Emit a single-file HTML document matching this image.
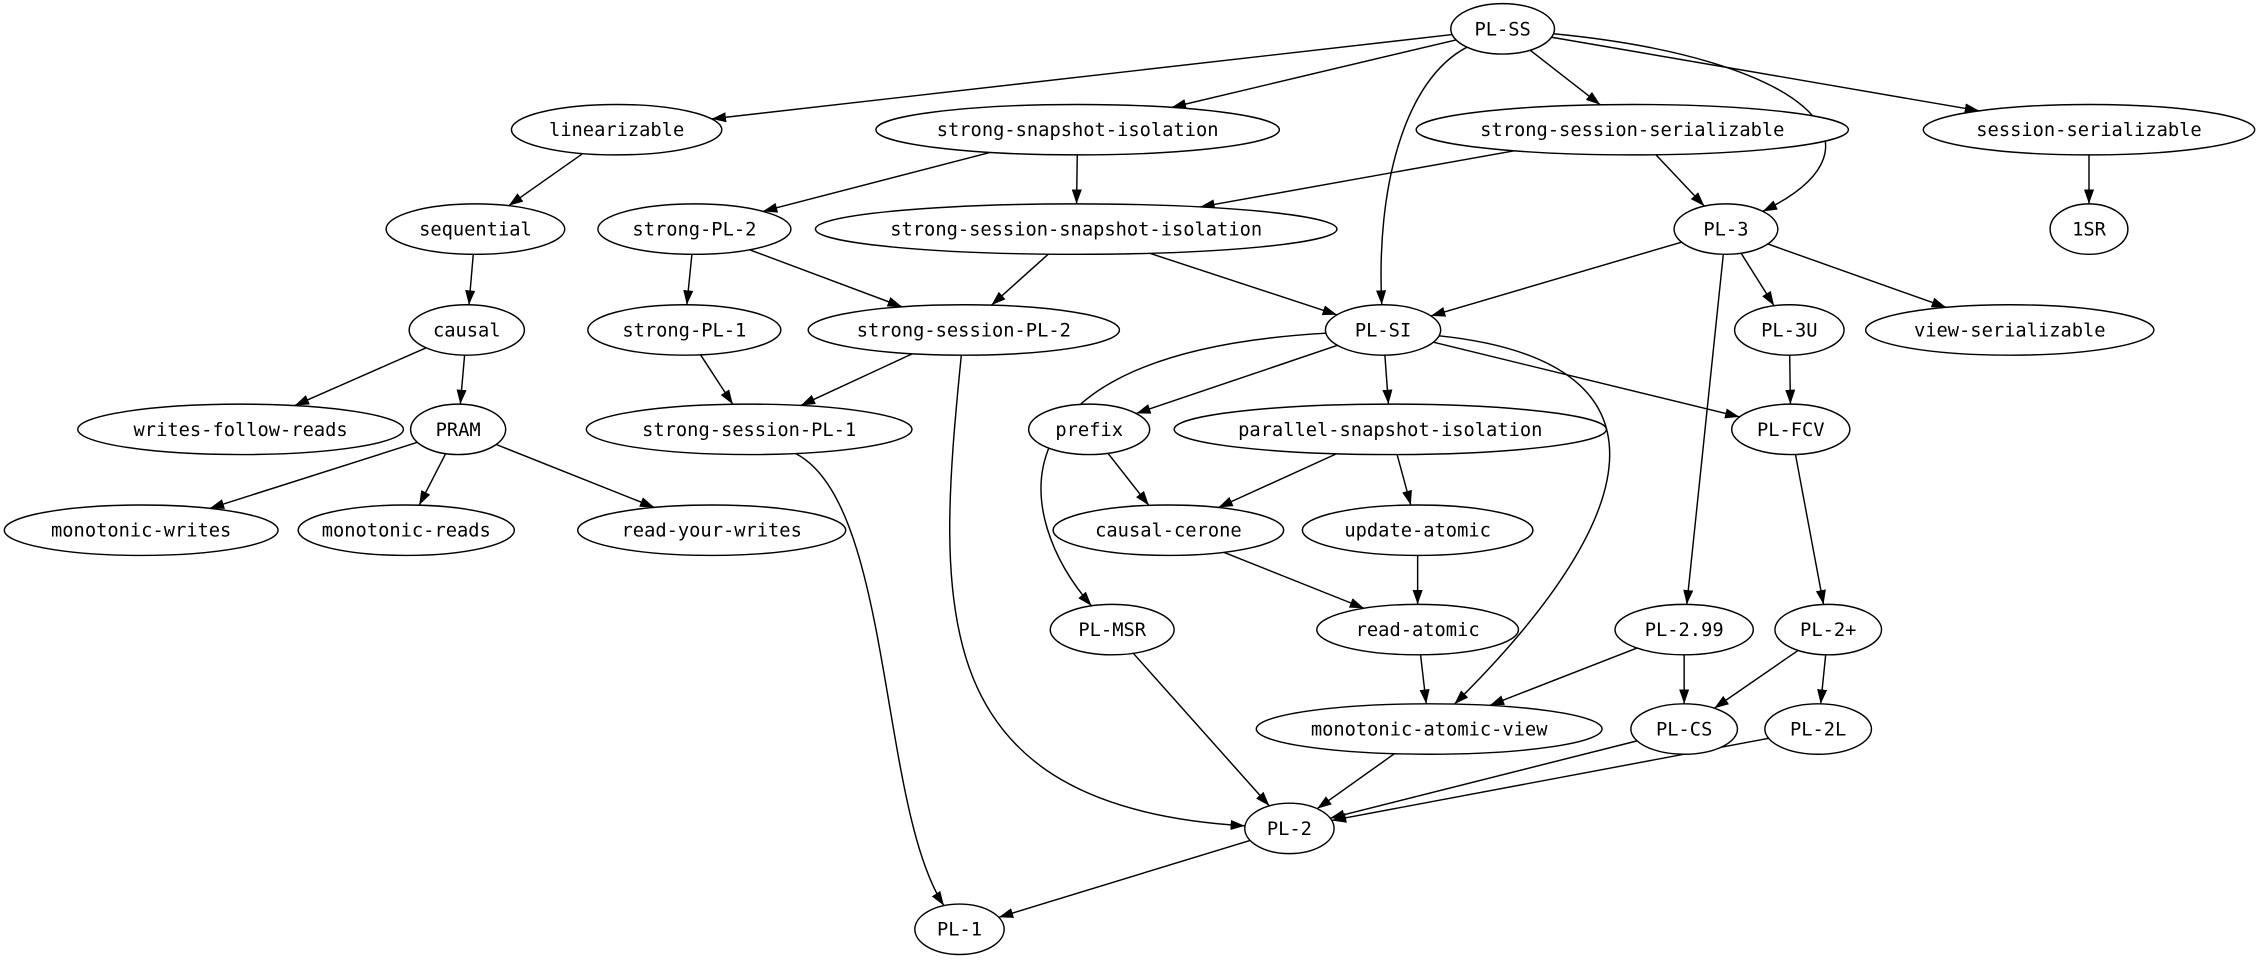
<!DOCTYPE html>
<html><head><meta charset="utf-8"><style>
html,body{margin:0;padding:0;background:#fff;}
svg{display:block}
text{font-family:"DejaVu Sans Mono","Liberation Mono",monospace;font-size:13px;fill:#000;}
</style></head><body>
<svg id="g" width="2259" height="961" viewBox="0 0 1568 667" xmlns="http://www.w3.org/2000/svg">
<defs><marker id="a" markerUnits="userSpaceOnUse" markerWidth="10" markerHeight="8" refX="10" refY="3.5" orient="auto"><path d="M0,0 L10,3.5 L0,7 z" fill="#000"/></marker></defs>
</svg>
<script>
var N={
"PL-SS":[1043,20,36],"linearizable":[428,90,73],"strong-snapshot-isolation":[748,90,140],
"strong-session-serializable":[1133,90,150],"session-serializable":[1450,90,115],
"sequential":[330,159,62],"strong-PL-2":[482,159,67],"strong-session-snapshot-isolation":[747,159,181],
"PL-3":[1198,159,36],"1SR":[1450,159,27],"causal":[324,229,40],"strong-PL-1":[475,229,67],
"strong-session-PL-2":[669,229,108],"PL-SI":[960,229,40],"PL-3U":[1242,229,38],
"view-serializable":[1395,229,100],"writes-follow-reads":[167,298,113],"PRAM":[318,298,33],
"strong-session-PL-1":[520,298,113],"prefix":[756,298,42],"parallel-snapshot-isolation":[965,298,150],
"PL-FCV":[1243,298,41],"monotonic-writes":[98,368,95],"monotonic-reads":[282,368,75],
"read-your-writes":[494,368,93],"causal-cerone":[811,368,80],"update-atomic":[984,368,80],
"PL-MSR":[772,437,43],"read-atomic":[984,437,70],"PL-2.99":[1169,437,48],"PL-2+":[1269,437,37],
"monotonic-atomic-view":[992,506,120],"PL-CS":[1169,506,37],"PL-2L":[1262,506,37],
"PL-2":[895,575,31],"PL-1":[666,645,31]};
var RY=17.5;
var E=[["PL-SS","linearizable"],["PL-SS","strong-snapshot-isolation"],["PL-SS","strong-session-serializable"],["PL-SS","session-serializable"],
["linearizable","sequential"],["sequential","causal"],["causal","writes-follow-reads"],["causal","PRAM"],["PRAM","monotonic-writes"],["PRAM","monotonic-reads"],["PRAM","read-your-writes"],
["strong-snapshot-isolation","strong-PL-2"],["strong-snapshot-isolation","strong-session-snapshot-isolation"],
["strong-session-serializable","strong-session-snapshot-isolation"],["strong-session-serializable","PL-3"],["session-serializable","1SR"],
["strong-PL-2","strong-PL-1"],["strong-PL-2","strong-session-PL-2"],["strong-session-snapshot-isolation","strong-session-PL-2"],["strong-session-snapshot-isolation","PL-SI"],
["strong-PL-1","strong-session-PL-1"],["strong-session-PL-2","strong-session-PL-1"],["PL-3","PL-SI"],["PL-3","PL-3U"],["PL-3","view-serializable"],["PL-3U","PL-FCV"],
["PL-SI","prefix"],["PL-SI","parallel-snapshot-isolation"],["PL-SI","PL-FCV"],["prefix","causal-cerone"],["parallel-snapshot-isolation","causal-cerone"],["parallel-snapshot-isolation","update-atomic"],
["causal-cerone","read-atomic"],["update-atomic","read-atomic"],["read-atomic","monotonic-atomic-view"],["PL-FCV","PL-2+"],["PL-2+","PL-CS"],["PL-2+","PL-2L"],
["PL-2.99","monotonic-atomic-view"],["PL-2.99","PL-CS"],["PL-MSR","PL-2"],["monotonic-atomic-view","PL-2"],["PL-CS","PL-2"],["PL-2L","PL-2"],["PL-2","PL-1"],["PL-3","PL-2.99"]];
var C=[["PL-SS","PL-SI",975,55,955,130],["PL-SS","PL-3",1250,40,1320,100],["PL-SI","PL-MSR",680,245,705,360],
["PL-SI","monotonic-atomic-view",1160,250,1150,350],["strong-session-PL-2","PL-2",650,420,640,560],["strong-session-PL-1","PL-1",620,350,610,560]];
var s=document.getElementById('g'),ns="http://www.w3.org/2000/svg",out="";
function clip(n,px,py){var a=N[n],dx=px-a[0],dy=py-a[1],t=1/Math.sqrt((dx/a[2])*(dx/a[2])+(dy/RY)*(dy/RY));return [a[0]+dx*t,a[1]+dy*t];}
E.forEach(function(e){var A=N[e[0]],B=N[e[1]],p=clip(e[0],B[0],B[1]),q=clip(e[1],A[0],A[1]);
out+='<path d="M'+p[0]+','+p[1]+' L'+q[0]+','+q[1]+'" stroke="#000" stroke-width="1" fill="none" marker-end="url(#a)"/>';});
C.forEach(function(e){var p=clip(e[0],e[2],e[3]),q=clip(e[1],e[4],e[5]);
out+='<path d="M'+p[0]+','+p[1]+' C'+e[2]+','+e[3]+' '+e[4]+','+e[5]+' '+q[0]+','+q[1]+'" stroke="#000" stroke-width="1" fill="none" marker-end="url(#a)"/>';});
for(var k in N){var a=N[k];out+='<ellipse cx="'+a[0]+'" cy="'+a[1]+'" rx="'+a[2]+'" ry="'+RY+'" fill="#fff" stroke="#000" stroke-width="1"/><text x="'+a[0]+'" y="'+(a[1]+4.5)+'" text-anchor="middle">'+k+'</text>';}
s.insertAdjacentHTML('beforeend',out);
</script>
</body></html>
